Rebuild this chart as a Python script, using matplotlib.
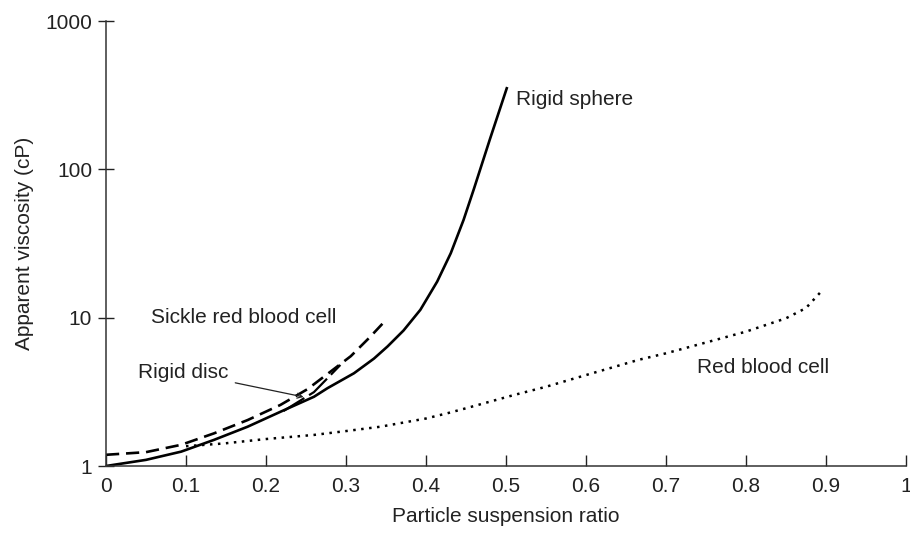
import matplotlib
matplotlib.use("Agg")
import matplotlib.pyplot as plt
from matplotlib.ticker import FixedLocator, NullLocator

plt.rcParams['font.family'] = ['Liberation Sans', 'DejaVu Sans']

# Rigid sphere suspension
sphere_x = [0, 0.05, 0.094, 0.135, 0.177, 0.218, 0.26, 0.277, 0.31, 0.335, 0.352,
            0.372, 0.393, 0.414, 0.431, 0.447, 0.46, 0.48, 0.501]
sphere_v = [1.0, 1.1, 1.25, 1.5, 1.84, 2.32, 2.93, 3.35, 4.22, 5.3, 6.4,
            8.2, 11.3, 17.5, 27.2, 45.6, 74, 160, 352]

# Sickle red blood cell suspension
sickle_x = [0, 0.05, 0.094, 0.135, 0.177, 0.218, 0.252, 0.28, 0.306, 0.33, 0.35]
sickle_v = [1.19, 1.24, 1.39, 1.66, 2.04, 2.58, 3.3, 4.3, 5.5, 7.4, 9.65]

# Rigid disc suspension
disc_x = [0.222, 0.26, 0.293]
disc_v = [2.35, 3.15, 4.8]

# Red blood cell suspension
rbc_x = [0.1, 0.148, 0.2, 0.26, 0.3, 0.343, 0.4, 0.427, 0.45, 0.51, 0.55, 0.593,
         0.666, 0.7, 0.75, 0.8, 0.85, 0.875, 0.895]
rbc_v = [1.36, 1.42, 1.52, 1.62, 1.72, 1.84, 2.09, 2.27, 2.45, 3.01, 3.42, 4.0,
         5.2, 5.75, 6.8, 8.05, 9.9, 11.6, 15.2]

x_ticks = [0, 0.1, 0.2, 0.3, 0.4, 0.5, 0.6, 0.7, 0.8, 0.9, 1]
x_tick_labels = ['0', '0.1', '0.2', '0.3', '0.4', '0.5', '0.6', '0.7', '0.8', '0.9', '1']
y_ticks = [1, 10, 100, 1000]
y_tick_labels = ['1', '10', '100', '1000']

FS = 15
INK = '#222222'

fig = plt.figure(figsize=(9.10, 5.33), dpi=100)
ax = fig.add_axes([0.1165, 0.1257, 0.879, 0.8349])

ax.plot(sphere_x, sphere_v, color='black', lw=1.9)
ax.plot(sickle_x, sickle_v, color='black', lw=1.9, linestyle=(0, (5, 2.6)))
ax.plot(disc_x, disc_v, color='black', lw=1.6, linestyle=(0, (11, 2.5)))
ax.plot(rbc_x, rbc_v, color='black', lw=1.8, linestyle=(0, (1, 2.2)))

ax.set_yscale('log')
ax.set_xlim(0, 1)
ax.set_ylim(1, 1000)

ax.xaxis.set_major_locator(FixedLocator(x_ticks))
ax.set_xticklabels(x_tick_labels)
ax.yaxis.set_major_locator(FixedLocator(y_ticks))
ax.yaxis.set_minor_locator(NullLocator())
ax.set_yticklabels(y_tick_labels)

ax.tick_params(axis='x', direction='in', length=8, width=1, labelsize=FS,
               pad=8, colors=INK)
ax.tick_params(axis='y', direction='inout', length=12, width=1, labelsize=FS,
               pad=4, colors=INK)

for side in ('top', 'right'):
    ax.spines[side].set_visible(False)
for side in ('left', 'bottom'):
    ax.spines[side].set_color('#333333')
    ax.spines[side].set_linewidth(1.1)

ax.set_xlabel('Particle suspension ratio', fontsize=FS, color=INK, labelpad=8)
ax.set_ylabel('Apparent viscosity (cP)', fontsize=FS, color=INK, labelpad=8)

ax.text(0.512, 294, 'Rigid sphere', fontsize=FS, va='center', ha='left', color=INK)
ax.text(0.056, 9.95, 'Sickle red blood cell', fontsize=FS, va='center', ha='left', color=INK)
ax.text(0.739, 4.58, 'Red blood cell', fontsize=FS, va='center', ha='left', color=INK)
ax.annotate('Rigid disc', xy=(0.247, 2.92), xytext=(0.04, 4.3),
            fontsize=FS, va='center', ha='left', color=INK,
            arrowprops=dict(arrowstyle='->', color=INK, lw=0.9,
                            shrinkA=3, shrinkB=0, mutation_scale=9))

fig.savefig('out.png', dpi=100)
